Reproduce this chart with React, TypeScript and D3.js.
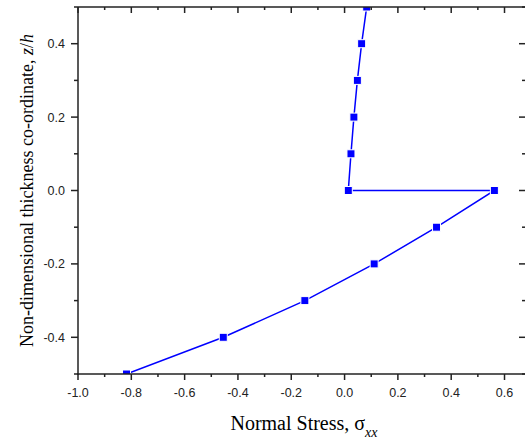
import React from "react";
import * as d3 from "d3";

const zValues = [0.5, 0.4, 0.3, 0.2, 0.1, 0.0, 0.0, -0.1, -0.2, -0.3, -0.4, -0.5];
const sigmaValues = [0.083, 0.064, 0.048, 0.035, 0.024, 0.014, 0.562, 0.345, 0.111, -0.149, -0.455, -0.818];
const xTickLabels = [-1.0, -0.8, -0.6, -0.4, -0.2, 0.0, 0.2, 0.4, 0.6];
const yTickLabels = [-0.4, -0.2, 0.0, 0.2, 0.4];

const W = 525, H = 441;
const L = 78, R = 526, T = 7, B = 374;

export default function App() {
  const x = d3.scaleLinear().domain([-1, 0.6806]).range([L, R]);
  const y = d3.scaleLinear().domain([-0.5, 0.5]).range([B, T]);
  const pts = zValues.map((z, i) => [sigmaValues[i], z] as [number, number]);
  const line = d3.line<[number, number]>().x(d => x(d[0])).y(d => y(d[1]))(pts) || "";
  const xMinor = d3.range(-1, 0.68, 0.1).map(v => +v.toFixed(2));
  const yMinor = d3.range(-0.5, 0.501, 0.1).map(v => +v.toFixed(2));
  const isMajor = (v: number) => Math.abs(Math.round(v * 10)) % 2 === 0;
  const axisColor = "#222";
  return (
    <svg width={W} height={H} style={{ position: "absolute", left: 0, top: 0, background: "#fff" }}>
      <defs>
        <clipPath id="plot"><rect x={L} y={T} width={R - L} height={B - T} /></clipPath>
      </defs>
      <g clipPath="url(#plot)">
        <path d={line} fill="none" stroke="#0000ff" strokeWidth={1.5} />
        {pts.map((p, i) => (
          <rect key={i} x={x(p[0]) - 4} y={y(p[1]) - 4} width={8} height={8} fill="#0000ff" stroke="#ffffff" strokeWidth={1} />
        ))}
      </g>
      <line x1={L} x2={L} y1={T} y2={B + 0.75} stroke={axisColor} strokeWidth={1.5} />
      <line x1={L - 0.75} x2={R} y1={B} y2={B} stroke={axisColor} strokeWidth={1.5} />
      <line x1={L} x2={R} y1={T} y2={T} stroke={axisColor} strokeWidth={1.5} />
      <line x1={R} x2={R} y1={T} y2={B} stroke={axisColor} strokeWidth={1.5} />
      {xMinor.map((v, i) => {
        const len = isMajor(v) ? 6 : 3;
        return (
          <g key={i}>
            <line x1={x(v)} x2={x(v)} y1={B} y2={B + len} stroke={axisColor} strokeWidth={1.5} />
            <line x1={x(v)} x2={x(v)} y1={T} y2={T + len} stroke={axisColor} strokeWidth={1.5} />
          </g>
        );
      })}
      {yMinor.map((v, i) => {
        const len = isMajor(v) ? 7 : 4;
        return (
          <g key={i}>
            <line x1={L - len} x2={L} y1={y(v)} y2={y(v)} stroke={axisColor} strokeWidth={1.5} />
            <line x1={R - len} x2={R} y1={y(v)} y2={y(v)} stroke={axisColor} strokeWidth={1.5} />
          </g>
        );
      })}
      {xTickLabels.map((v, i) => (
        <text key={i} x={x(v)} y={397} textAnchor="middle" fontFamily="Liberation Sans, Arial, sans-serif" fontSize={12.5} fill="#222">
          {v.toFixed(1)}
        </text>
      ))}
      {yTickLabels.map((v, i) => (
        <text key={i} x={65} y={y(v) + 4.5} textAnchor="end" fontFamily="Liberation Sans, Arial, sans-serif" fontSize={12.5} fill="#222">
          {v.toFixed(1)}
        </text>
      ))}
      <text x={304} y={430} textAnchor="middle" fontFamily="Liberation Serif, Times New Roman, serif" fontSize={20} fill="#000">
        Normal Stress, σ<tspan fontStyle="italic" fontSize={14} dy={7}>xx</tspan>
      </text>
      <text transform={`translate(33,${(T + B) / 2}) rotate(-90)`} textAnchor="middle" fontFamily="Liberation Serif, Times New Roman, serif" fontSize={18} fill="#000">
        Non-dimensional thickness co-ordinate, <tspan fontStyle="italic">z</tspan>/<tspan fontStyle="italic">h</tspan>
      </text>
    </svg>
  );
}
